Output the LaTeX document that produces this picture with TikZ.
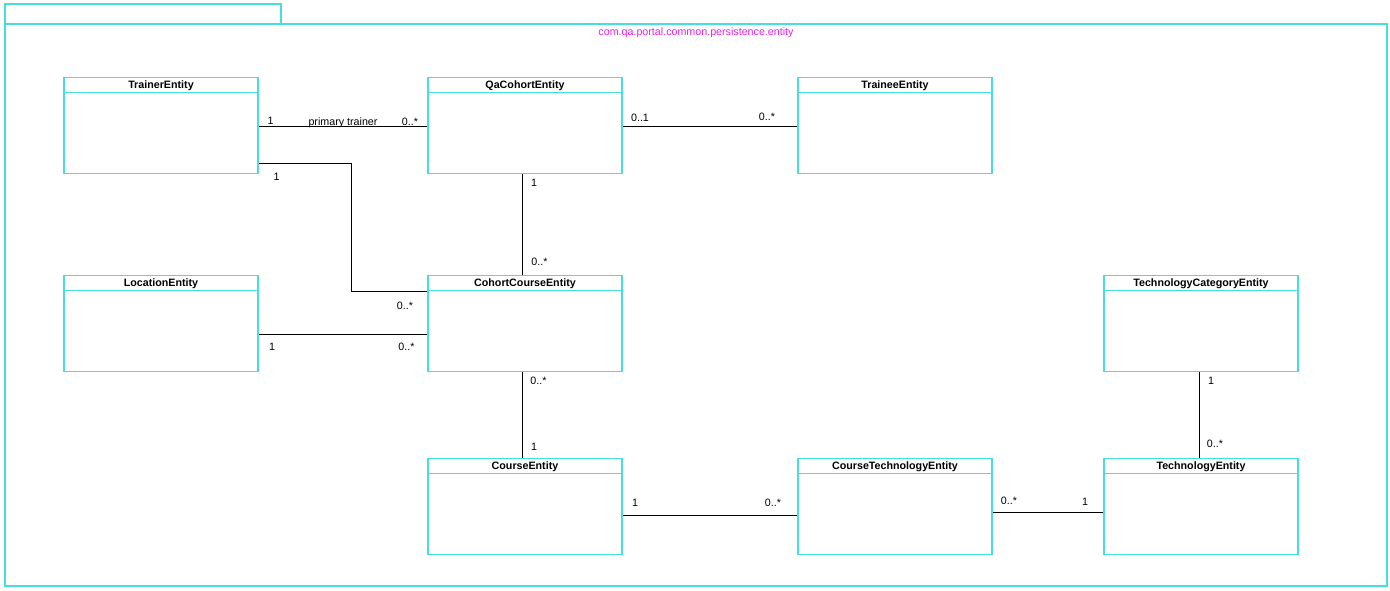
\documentclass[tikz,border=0pt]{standalone}
\usepackage{fontspec}
\setmainfont{Liberation Sans}
\usetikzlibrary{positioning}

\definecolor{entcol}{RGB}{70,222,225}
\definecolor{pkgcol}{RGB}{235,30,235}

\begin{document}
\begin{tikzpicture}[x=1pt, y=-1pt,
	entity/.style = {draw = entcol, line width = 1.2pt, minimum width = 194pt, minimum height = 96pt, inner sep = 0pt,
		path picture = {\draw[entcol, line width = 1.2pt] ([yshift=-15pt]path picture bounding box.north west) -- ([yshift=-15pt]path picture bounding box.north east);}},
	titol/.style = {font = \fontsize{10.7}{12}\selectfont\bfseries, inner sep = 0pt},
	mult/.style = {font = \fontsize{10.7}{12}\selectfont, inner sep = 0pt},
	assoc/.style = {draw = black, line width = 0.9pt}]
				\useasboundingbox (0,0) rectangle (1390,590);
				% paquet
				\draw[entcol, line width = 1.2pt] (5,24) rectangle (281,4);
				\draw[entcol, line width = 1.2pt] (5,24) rectangle (1387,586);
				\node[mult, text = pkgcol] (pkg) at (696,33) {com.qa.portal.common.persistence.entity};
				% classes
				\node[entity] (trainer) at (161,125.25) {};
				\node[entity] (qacohort) at (525,125.25) {};
				\node[entity] (trainee) at (895,125.25) {};
				\node[entity] (location) at (161,323.75) {};
				\node[entity] (cohortcourse) at (525,323.75) {};
				\node[entity] (techcategory) at (1201,323.75) {};
				\node[entity] (course) at (525,506.75) {};
				\node[entity] (coursetech) at (895,506.75) {};
				\node[entity] (technology) at (1201,506.75) {};
				\node[titol] (trainer-t) at ([yshift=-9pt]trainer.north) {TrainerEntity};
				\node[titol] (qacohort-t) at ([yshift=-9pt]qacohort.north) {QaCohortEntity};
				\node[titol] (trainee-t) at ([yshift=-9pt]trainee.north) {TraineeEntity};
				\node[titol] (location-t) at ([yshift=-9pt]location.north) {LocationEntity};
				\node[titol] (cohortcourse-t) at ([yshift=-9pt]cohortcourse.north) {CohortCourseEntity};
				\node[titol] (techcategory-t) at ([yshift=-9pt]techcategory.north) {TechnologyCategoryEntity};
				\node[titol] (course-t) at ([yshift=-9pt]course.north) {CourseEntity};
				\node[titol] (coursetech-t) at ([yshift=-9pt]coursetech.north) {CourseTechnologyEntity};
				\node[titol] (technology-t) at ([yshift=-9pt]technology.north) {TechnologyEntity};
				% associacions
				\draw[assoc] ([yshift=-1pt]trainer.east) -- ([yshift=-1pt]qacohort.west);
				\coordinate (knick) at (351,291);
				\draw[assoc] ([yshift=-38pt]trainer.east) -| (knick) -- (knick -| cohortcourse.west);
				\draw[assoc] ([yshift=-11pt]location.east) -- ([yshift=-11pt]cohortcourse.west);
				\draw[assoc] ([xshift=-2.5pt]qacohort.south) -- ([xshift=-2.5pt]cohortcourse.north);
				\draw[assoc] ([yshift=-1pt]qacohort.east) -- ([yshift=-1pt]trainee.west);
				\draw[assoc] ([xshift=-2.5pt]cohortcourse.south) -- ([xshift=-2.5pt]course.north);
				\draw[assoc] ([yshift=-8.5pt]course.east) -- ([yshift=-8.5pt]coursetech.west);
				\draw[assoc] ([yshift=-5.5pt]coursetech.east) -- ([yshift=-5.5pt]technology.west);
				\draw[assoc] ([xshift=-2pt]techcategory.south) -- ([xshift=-2pt]technology.north);
				% multiplicitats
				\node[mult] (m1) at (270.5,121) {1};
				\node[mult] (role) at (343,122.5) {primary trainer};
				\node[mult] (m2) at (410,121.5) {0..*};
				\node[mult] (m3) at (276.5,177) {1};
				\node[mult] (m4) at (405,305.5) {0..*};
				\node[mult] (m5) at (534,182.5) {1};
				\node[mult] (m6) at (539.5,261.5) {0..*};
				\node[mult] (m7) at (640,117.5) {0..1};
				\node[mult] (m8) at (767,116.5) {0..*};
				\node[mult] (m9) at (272,346.5) {1};
				\node[mult] (m10) at (406.5,346.5) {0..*};
				\node[mult] (m11) at (538.5,381) {0..*};
				\node[mult] (m12) at (534,446.5) {1};
				\node[mult] (m13) at (635,502.5) {1};
				\node[mult] (m14) at (773,502.5) {0..*};
				\node[mult] (m15) at (1009,500.5) {0..*};
				\node[mult] (m16) at (1085,501.5) {1};
				\node[mult] (m17) at (1211,380.5) {1};
				\node[mult] (m18) at (1215,443.5) {0..*};
			\end{tikzpicture}
\end{document}
